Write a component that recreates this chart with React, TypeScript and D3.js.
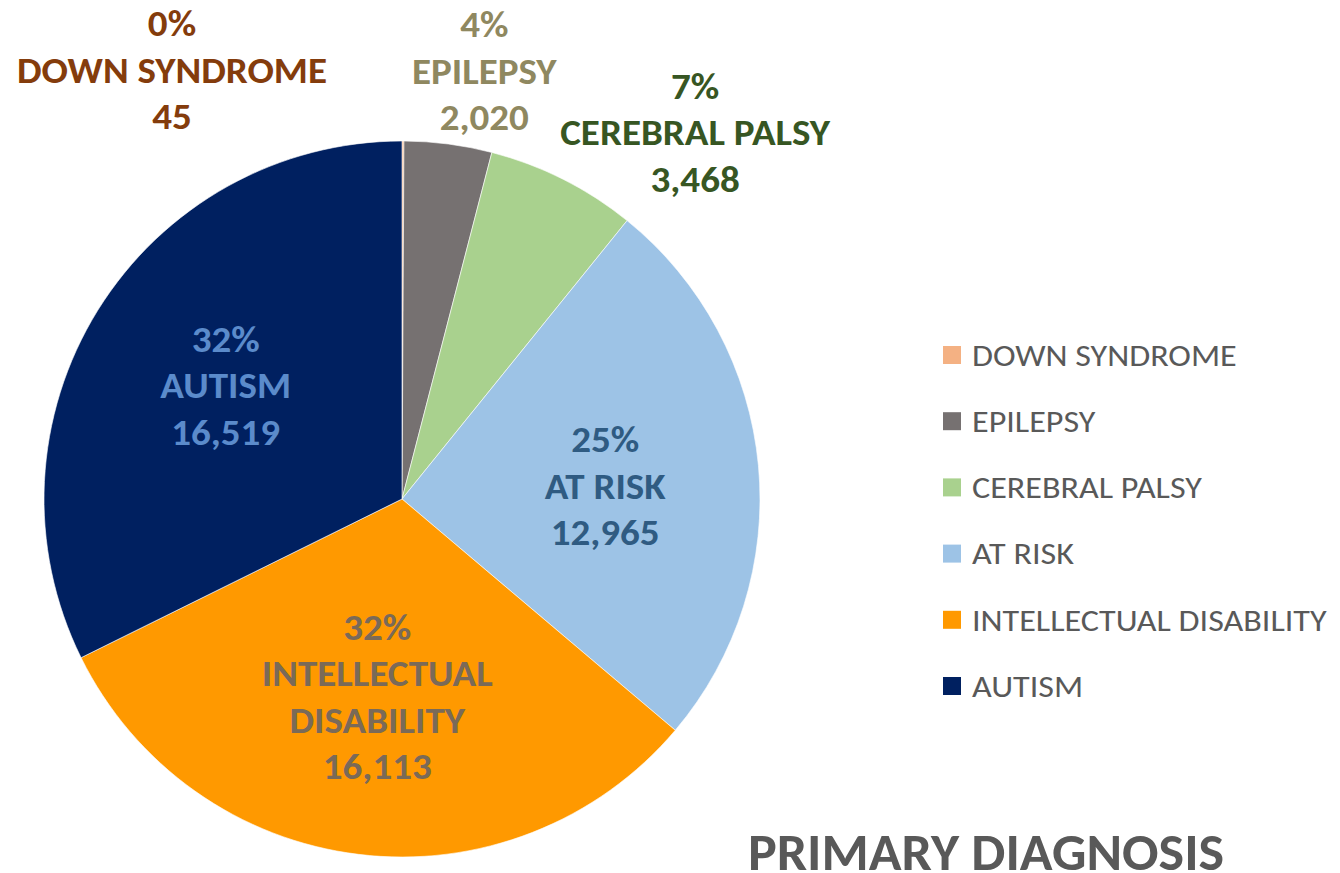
import React from 'react';
import * as d3 from 'd3';

// primary diagnosis counts, clockwise from 12 o'clock
const categories = ['DOWN SYNDROME', 'EPILEPSY', 'CEREBRAL PALSY', 'AT RISK', 'INTELLECTUAL DISABILITY', 'AUTISM'];
const counts = [45, 2020, 3468, 12965, 16113, 16519];
const sliceColors = ['#F4B183', '#767171', '#A9D18E', '#9DC3E6', '#FF9900', '#002060'];
const labelColors = ['#843C0C', '#8F8860', '#375623', '#2F5B82', '#7A6A58', '#5B8BCB'];
// how the data label text breaks over lines
const labelLines = [
  ['DOWN SYNDROME'],
  ['EPILEPSY'],
  ['CEREBRAL PALSY'],
  ['AT RISK'],
  ['INTELLECTUAL', 'DISABILITY'],
  ['AUTISM'],
];
const title = 'PRIMARY DIAGNOSIS';

const W = 1340;
const H = 873;
const cx = 402;
const cy = 499;
const radius = 358;
const FONT = "Carlito, Calibri, 'Open Sans', sans-serif";
const STRETCH = 1.085; // the source render is a touch wider than Carlito

// small slices get their label outside the pie, dragged by hand in the original
const outsideOffset: Record<number, [number, number]> = {
  0: [-231, -71],
  1: [36, -73],
  2: [132, -47],
};
// small nudges for the labels sitting inside the pie
const insideNudge: Record<number, [number, number]> = {
  3: [0, 6],
  4: [0, -5],
  5: [-3, -6],
};

export default function App() {
  const total = d3.sum(counts);
  const pie = d3.pie<number>().sort(null).value((d) => d);
  const arcs = pie(counts);
  const arc = d3.arc<d3.PieArcDatum<number>>().innerRadius(0).outerRadius(radius);
  const labelArc = d3.arc<d3.PieArcDatum<number>>().innerRadius(radius * 0.57).outerRadius(radius * 0.57);
  const edgeArc = d3.arc<d3.PieArcDatum<number>>().innerRadius(radius).outerRadius(radius);
  const fmt = d3.format(',');
  const pct = (v: number) => `${Math.round((v / total) * 100)}%`;

  const legendY = d3.scalePoint<string>().domain(categories).range([355, 686]);

  return (
    <svg width={W} height={H} style={{ position: 'absolute', left: 0, top: 0, background: '#fff' }}>
      <g transform={`translate(${cx},${cy})`}>
        {arcs.map((a, i) => (
          <path key={i} d={arc(a) || ''} fill={sliceColors[i]} stroke="#fff" strokeWidth={0.6} />
        ))}
        {arcs.map((a, i) => {
          let x: number;
          let y: number;
          if (outsideOffset[i]) {
            const [ex, ey] = edgeArc.centroid(a);
            x = ex + outsideOffset[i][0];
            y = ey + outsideOffset[i][1];
          } else {
            [x, y] = labelArc.centroid(a);
            const n = insideNudge[i] || [0, 0];
            x += n[0];
            y += n[1];
          }
          const lines = [pct(counts[i]), ...labelLines[i], fmt(counts[i])];
          const lh = 46.5;
          const y0 = -((lines.length - 1) * lh) / 2;
          return (
            <g key={i} transform={`translate(${x},${y}) scale(${STRETCH},1)`}>
              <text textAnchor="middle" fill={labelColors[i]} fontFamily={FONT} fontWeight="bold" fontSize={36}>
                {lines.map((t, j) => (
                  <tspan key={j} x={0} y={y0 + j * lh} dy="0.36em">
                    {t}
                  </tspan>
                ))}
              </text>
            </g>
          );
        })}
      </g>
      <g>
        {categories.map((c, i) => (
          <g key={c} transform={`translate(943,${legendY(c)})`}>
            <rect x={0} y={-9} width={18} height={18} fill={sliceColors[i]} />
            <text
              transform="translate(29,0) scale(1.1,1)"
              dy="0.35em"
              fill="#595959"
              fontFamily={FONT}
              fontSize={31}
            >
              {c}
            </text>
          </g>
        ))}
      </g>
      <text
        transform="translate(986,870) scale(1.04,1)"
        textAnchor="middle"
        fill="#595959"
        fontFamily={FONT}
        fontWeight="bold"
        fontSize={52}
      >
        {title}
      </text>
    </svg>
  );
}
